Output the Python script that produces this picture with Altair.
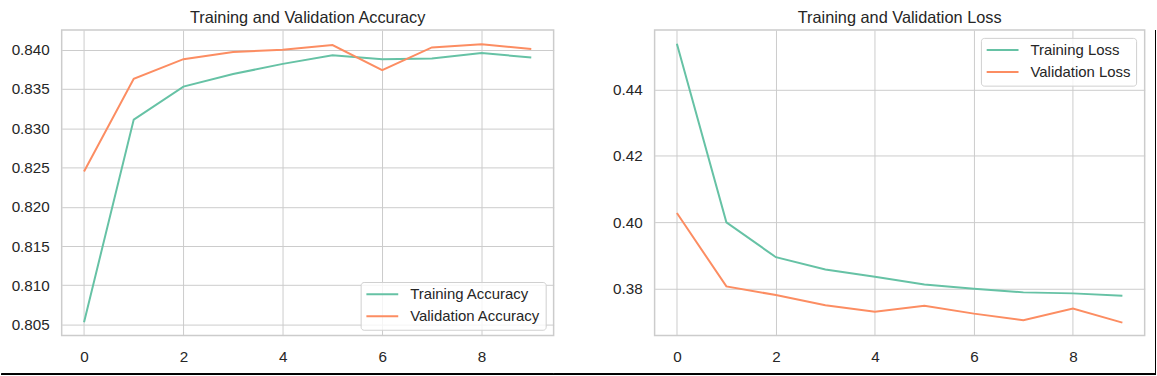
import altair as alt
import pandas as pd

epochs = list(range(10))
train_acc = [0.8053, 0.8311, 0.8353, 0.8369, 0.8382, 0.8393, 0.8388, 0.8389, 0.8396, 0.8390]
val_acc = [0.8245, 0.8363, 0.8388, 0.8397, 0.8400, 0.8406, 0.8374, 0.8403, 0.8407, 0.8401]
train_loss = [0.4538, 0.4000, 0.3895, 0.3858, 0.3836, 0.3813, 0.3800, 0.3789, 0.3786, 0.3779]
val_loss = [0.4028, 0.3807, 0.3781, 0.3750, 0.3731, 0.3749, 0.3725, 0.3705, 0.3740, 0.3698]

acc_names = ["Training Accuracy", "Validation Accuracy"]
loss_names = ["Training Loss", "Validation Loss"]
x_ticks = [0, 2, 4, 6, 8]
acc_ticks = [0.805, 0.810, 0.815, 0.820, 0.825, 0.830, 0.835, 0.840]
loss_ticks = [0.38, 0.40, 0.42, 0.44]
colors = ["#66c2a5", "#fc8d62"]

FONT = "Liberation Sans"
TXT = "#262626"
H = 307
W_L = 494.5
W_R = 492.6

def long_df(a, b, names):
    rows = []
    for e, v in zip(epochs, a):
        rows.append({"epoch": e, "value": v, "series": names[0]})
    for e, v in zip(epochs, b):
        rows.append({"epoch": e, "value": v, "series": names[1]})
    return pd.DataFrame(rows)

df_acc = long_df(train_acc, val_acc, acc_names)
df_loss = long_df(train_loss, val_loss, loss_names)

def panel(df, names, ydom, yticks, yfmt, lx, ly, width):
    return alt.Chart(df).mark_line(strokeWidth=2).encode(
        x=alt.X("epoch:Q",
                scale=alt.Scale(domain=[-0.45, 9.45], nice=False, zero=False),
                axis=alt.Axis(values=x_ticks, title=None, format="d", labelPadding=14)),
        y=alt.Y("value:Q",
                scale=alt.Scale(domain=ydom, nice=False, zero=False),
                axis=alt.Axis(values=yticks, title=None, format=yfmt, labelPadding=12.5)),
        color=alt.Color("series:N",
                        scale=alt.Scale(domain=names, range=colors),
                        sort=names,
                        legend=alt.Legend(title=None, orient="none", legendX=lx, legendY=ly,
                                          fillColor="rgba(255,255,255,0.8)",
                                          strokeColor="#d0d0d0", cornerRadius=3,
                                          padding=4.8, symbolType="M-1,0H3.923",
                                          symbolSize=169, symbolStrokeWidth=2,
                                          labelFontSize=15, labelFont=FONT,
                                          labelColor=TXT, labelOffset=30,
                                          rowPadding=6)),
    ).properties(width=width, height=H)

def title_of(text):
    return alt.Title(text, fontSize=16.4, fontWeight="normal", font=FONT, color=TXT,
                     offset=3.7)

# thin black image border (bottom and right edges)
left_border = alt.Chart(df_acc).mark_rule(color="black", strokeWidth=1).encode(
    x=alt.value(-60.5), x2=alt.value(W_L), y=alt.value(346))
right_bottom = alt.Chart(df_loss).mark_rule(color="black", strokeWidth=1).encode(
    x=alt.value(-101), x2=alt.value(503.5), y=alt.value(346))
right_side = alt.Chart(df_loss).mark_rule(color="black", strokeWidth=1).encode(
    x=alt.value(503.5), y=alt.value(0), y2=alt.value(346.5))

left = alt.layer(
    panel(df_acc, acc_names, [0.8036, 0.8425], acc_ticks, ".3f", 300.5, 253.2, W_L),
    left_border,
).properties(title=title_of("Training and Validation Accuracy"))

right = alt.layer(
    panel(df_loss, loss_names, [0.3659, 0.4579], loss_ticks, ".2f", 328, 7.8, W_R),
    right_bottom, right_side,
).properties(title=title_of("Training and Validation Loss"))

chart = alt.hconcat(left, right, spacing=-3).resolve_scale(color="independent").configure(
    padding={"left": 0, "top": 7.3, "right": 0, "bottom": 0},
    background="white",
).configure_view(
    stroke="#cccccc", strokeWidth=1.5
).configure_axis(
    grid=True, gridColor="#cccccc", gridWidth=1, domain=False, ticks=False,
    labelFont=FONT, labelFontSize=15.3, labelColor=TXT,
)

chart.save("out.html", embed_options={"renderer": "svg", "actions": False})
